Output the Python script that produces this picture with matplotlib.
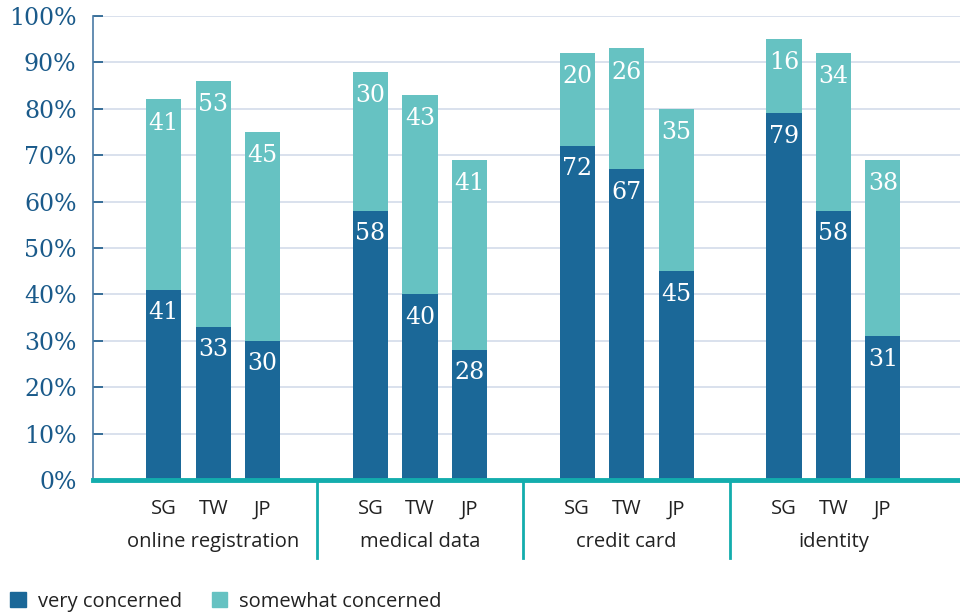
import numpy as np
import matplotlib
matplotlib.use('Agg')
import matplotlib.pyplot as plt
from matplotlib.patches import Patch
from matplotlib.transforms import blended_transform_factory

# data
groups = ['online registration', 'medical data', 'credit card', 'identity']
countries = ['SG', 'TW', 'JP']
very = [[41, 33, 30], [58, 40, 28], [72, 67, 45], [79, 58, 31]]
somewhat = [[41, 53, 45], [30, 43, 41], [20, 26, 35], [16, 34, 38]]
yticks = [0, 10, 20, 30, 40, 50, 60, 70, 80, 90, 100]

dark = '#1b6898'
light = '#66c2c2'
teal = '#13adad'
axis_blue = '#1a5a8a'

fig = plt.figure(figsize=(9.6, 6.12), dpi=100)
ax = fig.add_axes([0.097, 0.2157, 0.903, 0.7582])

gap = 4.18
width = 0.71
for g in range(len(groups)):
    for i in range(len(countries)):
        x = g * gap + i
        v = very[g][i]
        s = somewhat[g][i]
        ax.bar(x, v, width, color=dark, zorder=3)
        ax.bar(x, s, width, bottom=v, color=light, zorder=3)
        ax.annotate(str(v), (x, v), xytext=(0, -16.5), textcoords='offset points',
                    ha='center', va='center', color='white', fontsize=17,
                    family='DejaVu Serif', zorder=4)
        ax.annotate(str(s), (x, v + s), xytext=(0, -17), textcoords='offset points',
                    ha='center', va='center', color='white', fontsize=17,
                    family='DejaVu Serif', zorder=4)

ax.set_xlim(-1.43, 3 * gap + 2 + 1.56)
ax.set_ylim(0, 100)

ax.set_yticks(yticks)
ax.set_yticklabels([str(t) + '%' for t in yticks], family='DejaVu Serif',
                   fontsize=17, color=axis_blue)
ax.tick_params(axis='y', direction='in', length=7, width=1.2, color=axis_blue, pad=12)
ax.grid(axis='y', color='#d3dcea', lw=1.2, zorder=0)

# x tick labels: countries and groups
xt = [g * gap + i for g in range(len(groups)) for i in range(len(countries))]
ax.set_xticks(xt)
ax.set_xticklabels(countries * len(groups), fontsize=14.5, family='Open Sans', color='#222222')
ax.tick_params(axis='x', length=0, pad=14)

trans = blended_transform_factory(ax.transData, ax.transAxes)
for g, name in enumerate(groups):
    ax.text(g * gap + 1, -0.134, name, transform=trans, ha='center', va='center',
            fontsize=14.5, family='Open Sans', color='#222222')
for g in range(len(groups) - 1):
    sx = g * gap + 2 + (gap - 2) / 2
    ax.plot([sx, sx], [0, -0.168], transform=trans, color=teal, lw=2, clip_on=False)

for sp in ['top', 'right', 'bottom']:
    ax.spines[sp].set_visible(False)
ax.spines['left'].set_color('#4a7aa6')
ax.spines['left'].set_linewidth(1.2)
ax.axhline(0, color=teal, lw=3.5, zorder=5, clip_on=False)

handles = [Patch(color=dark, label='very concerned'),
           Patch(color=light, label='somewhat concerned')]
fig.legend(handles=handles, loc='lower left', bbox_to_anchor=(-0.008, -0.029), ncol=2,
           frameon=False, prop={'family': 'Open Sans', 'size': 14.5},
           handlelength=0.75, handleheight=0.75, handletextpad=0.6, columnspacing=1.5,
           labelcolor='#222222')

fig.savefig('out.png', dpi=100)
